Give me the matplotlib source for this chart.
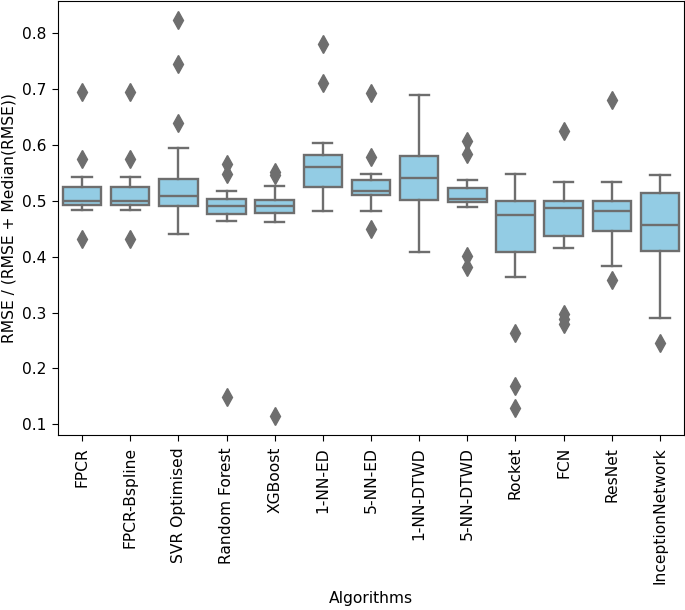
import matplotlib
matplotlib.use('Agg')
import matplotlib.pyplot as plt

plt.rcParams['font.size'] = 11.2
plt.rcParams['xtick.major.size'] = 4.2
plt.rcParams['ytick.major.size'] = 4.2
plt.rcParams['xtick.major.pad'] = 4.5
plt.rcParams['ytick.major.pad'] = 4.2

# Algoritmos e estatísticas
algorithms = ['FPCR', 'FPCR-Bspline', 'SVR Optimised', 'Random Forest', 'XGBoost',
              '1-NN-ED', '5-NN-ED', '1-NN-DTWD', '5-NN-DTWD', 'Rocket', 'FCN',
              'ResNet', 'InceptionNetwork']

whisker_low = [0.484, 0.484, 0.441, 0.463, 0.461, 0.482, 0.482, 0.408, 0.489, 0.364, 0.416, 0.384, 0.291]
q1 = [0.493, 0.493, 0.490, 0.477, 0.478, 0.524, 0.510, 0.502, 0.497, 0.408, 0.437, 0.446, 0.410]
median = [0.499, 0.499, 0.508, 0.490, 0.490, 0.560, 0.517, 0.540, 0.503, 0.475, 0.486, 0.481, 0.457]
q3 = [0.525, 0.525, 0.538, 0.503, 0.501, 0.581, 0.537, 0.580, 0.522, 0.499, 0.500, 0.500, 0.513]
whisker_high = [0.543, 0.543, 0.595, 0.518, 0.527, 0.603, 0.547, 0.689, 0.537, 0.547, 0.534, 0.534, 0.545]
fliers = [
    [0.695, 0.574, 0.432],
    [0.695, 0.574, 0.432],
    [0.823, 0.745, 0.638],
    [0.565, 0.547, 0.149],
    [0.552, 0.546, 0.115],
    [0.780, 0.711],
    [0.692, 0.578, 0.450],
    [],
    [0.607, 0.584, 0.401, 0.382],
    [0.264, 0.169, 0.129],
    [0.624, 0.298, 0.289, 0.280],
    [0.680, 0.358],
    [0.245],
]

stats = []
for i, name in enumerate(algorithms):
    stats.append({'label': name, 'whislo': whisker_low[i], 'q1': q1[i], 'med': median[i],
                  'q3': q3[i], 'whishi': whisker_high[i], 'fliers': fliers[i]})

gray = '#6e6e6e'
box_color = '#93cce4'
lw = 1.7

fig = plt.figure(figsize=(6.85, 6.10), dpi=100)
ax = fig.add_axes([58 / 685, 1 - 435 / 610, 626 / 685, 434 / 610])

ax.bxp(stats, positions=range(len(algorithms)), widths=0.8, patch_artist=True,
       boxprops=dict(facecolor=box_color, edgecolor=gray, linewidth=lw),
       medianprops=dict(color=gray, linewidth=lw),
       whiskerprops=dict(color=gray, linewidth=lw),
       capprops=dict(color=gray, linewidth=lw),
       flierprops=dict(marker='d', markerfacecolor=gray, markeredgecolor=gray, markersize=9))

ax.set_xlim(-0.5, len(algorithms) - 0.5)
ax.set_ylim(0.081, 0.857)
ax.set_xticks(range(len(algorithms)))
ax.set_xticklabels(algorithms, rotation=90)
ax.set_xlabel('Algorithms', labelpad=5)
ax.set_ylabel('RMSE / (RMSE + Median(RMSE))')

fig.savefig('out.png', dpi=100)
